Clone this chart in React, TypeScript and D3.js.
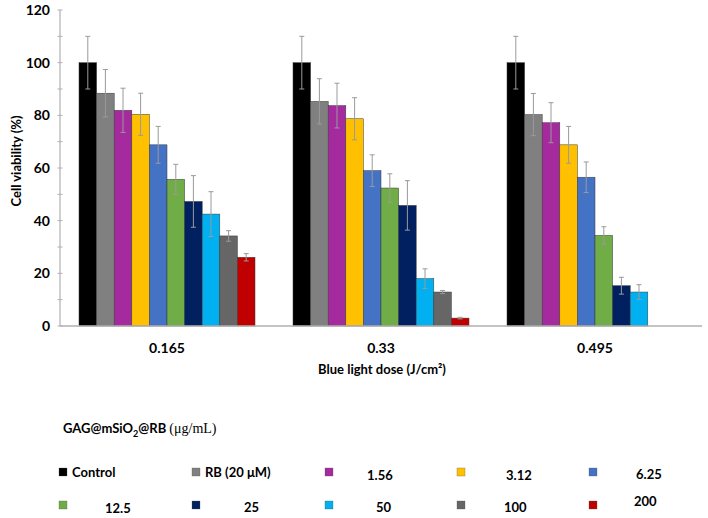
import React from "react";
import * as d3 from "d3";

const width = 708;
const height = 518;
const margin = { top: 10, right: 6, bottom: 192, left: 60 };

// blue light doses (x categories)
const doses = ["0.165", "0.33", "0.495"];

// treatment series
const seriesNames = ["Control", "RB (20 μM)", "1.56", "3.12", "6.25", "12.5", "25", "50", "100", "200"];
const seriesColors = ["#000000", "#808080", "#A52A9E", "#FFC000", "#4472C4", "#70AD47", "#002060", "#00B0F0", "#666666", "#C00000"];

// cell viability (%) per dose, in series order
const viability0165 = [100, 88.4, 81.9, 80.4, 68.8, 55.7, 47.3, 42.5, 34.2, 26.1];
const viability033 = [100, 85.3, 83.7, 78.7, 59, 52.4, 45.8, 18, 12.9, 3.0];
const viability0495 = [100, 80.3, 77.2, 68.8, 56.5, 34.4, 15.3, 12.9, null, null];

// standard deviations
const error0165 = [10, 9, 8.4, 8, 7, 5.7, 9.8, 8.5, 2, 1.4];
const error033 = [10, 8.6, 8.5, 8, 6, 5.4, 9.4, 3.7, 0.6, 0.3];
const error0495 = [10, 8, 7.6, 7, 5.8, 3.3, 3.2, 2.8, null, null];

const yTicks = [0, 10, 20, 30, 40, 50, 60, 70, 80, 90, 100, 110, 120];

// legend layout (5 columns x 2 rows)
const legendCols = [59, 192, 325, 457, 589];
const legendRows = [472, 505];
const legendTextDx = [13, 13, 42, 49, 47, 46, 52, 51, 47, 45];
const legendTextDy = [0, 0, 3, 3, 2, 3, 2, 2, 2, -4];

const font = "Lato, 'Open Sans', sans-serif";

const App = () => {
  const values = [viability0165, viability033, viability0495];
  const errors = [error0165, error033, error0495];

  const x0 = d3
    .scaleBand<string>()
    .domain(doses)
    .range([margin.left, width - margin.right]);

  const groupW = 176;
  const x1 = d3
    .scaleBand<number>()
    .domain(d3.range(seriesNames.length))
    .range([(x0.bandwidth() - groupW) / 2, (x0.bandwidth() + groupW) / 2]);

  const y = d3
    .scaleLinear()
    .domain([0, 120])
    .range([height - margin.bottom, margin.top]);

  const y0 = y(0);

  return (
    <svg
      width={width}
      height={height}
      style={{ position: "absolute", left: 0, top: 0, background: "#fff" }}
      fontFamily={font}
    >
      {/* bars */}
      {doses.map((dose, gi) => (
        <g key={dose} transform={`translate(${x0(dose)},0)`}>
          {values[gi].map((v, si) =>
            v == null ? null : (
              <rect
                key={si}
                x={x1(si)}
                y={y(v)}
                width={x1.bandwidth()}
                height={y0 - y(v)}
                fill={seriesColors[si]}
                stroke="#3a3a3a"
                strokeWidth={0.5}
              />
            )
          )}
          {values[gi].map((v, si) => {
            const e = errors[gi][si];
            if (v == null || e == null) return null;
            const cx = (x1(si) as number) + x1.bandwidth() / 2;
            return (
              <g key={"e" + si} stroke="#9a9a9a" strokeWidth={1}>
                <line x1={cx} x2={cx} y1={y(v + e)} y2={y(v - e)} />
                <line x1={cx - 2.5} x2={cx + 2.5} y1={y(v + e)} y2={y(v + e)} />
                <line x1={cx - 2.5} x2={cx + 2.5} y1={y(v - e)} y2={y(v - e)} />
              </g>
            );
          })}
        </g>
      ))}

      {/* y axis */}
      <line x1={margin.left} x2={margin.left} y1={y(120)} y2={y0} stroke="#b0b0b0" strokeWidth={1.2} />
      {yTicks.map((t) => (
        <g key={t}>
          <line x1={margin.left - 2.5} x2={margin.left + 2.5} y1={y(t)} y2={y(t)} stroke="#b0b0b0" strokeWidth={1} />
          {t % 20 === 0 && (
            <text x={50} y={y(t)} dy="0.35em" textAnchor="end" fontSize={14} fontWeight="bold" fill="#000">
              {t}
            </text>
          )}
        </g>
      ))}
      <text
        transform={`translate(16,${161}) rotate(-90)`}
        textAnchor="middle"
        dy="0.35em"
        fontSize={13}
        fontWeight="bold"
      >
        Cell viability (%)
      </text>

      {/* x axis */}
      <line x1={margin.left} x2={width - margin.right} y1={y0} y2={y0} stroke="#b0b0b0" strokeWidth={1.5} />
      {doses.map((dose) => (
        <text
          key={dose}
          x={(x0(dose) as number) + x0.bandwidth() / 2}
          y={348}
          dy="0.35em"
          textAnchor="middle"
          fontSize={14}
          fontWeight="bold"
        >
          {dose}
        </text>
      ))}
      <text x={382} y={369} dy="0.35em" textAnchor="middle" fontSize={13} fontWeight="bold">
        Blue light dose (J/cm²)
      </text>

      {/* legend */}
      <text x={63} y={428} dy="0.35em" fontSize={13} fontWeight="bold">
        GAG@mSiO<tspan fontSize={9} dy="4">2</tspan>
        <tspan dy="-4">@RB </tspan>
        <tspan fontFamily="'Liberation Serif', serif" fontWeight="normal" fontSize={14}>
          (μg/mL)
        </tspan>
      </text>
      {seriesNames.map((name, i) => {
        const cx = legendCols[i % 5];
        const cy = legendRows[Math.floor(i / 5)];
        return (
          <g key={name}>
            <rect x={cx} y={cy - 4} width={8} height={8} fill={seriesColors[i]} stroke="#555" strokeWidth={0.3} />
            <text x={cx + legendTextDx[i]} y={cy + legendTextDy[i]} dy="0.35em" fontSize={13} fontWeight="bold">
              {name}
            </text>
          </g>
        );
      })}
    </svg>
  );
};

export default App;
